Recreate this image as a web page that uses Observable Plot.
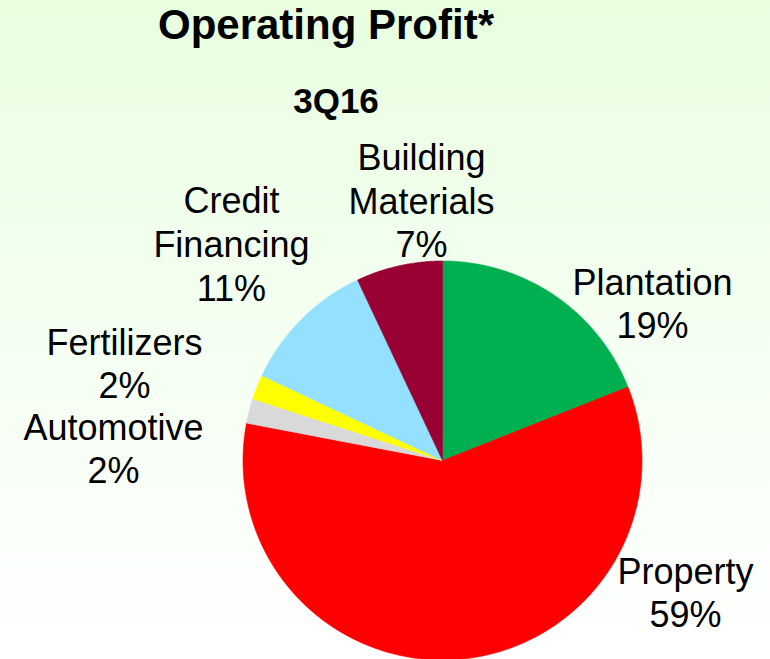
<!DOCTYPE html>
<html><head><meta charset="utf-8">
<script src="https://cdn.jsdelivr.net/npm/d3@7"></script>
<script src="https://cdn.jsdelivr.net/npm/@observablehq/plot@0.6"></script>
<style>
html,body{margin:0;padding:0;}
body{width:770px;height:659px;overflow:hidden;background:linear-gradient(to bottom,#e8ffe0 0%,#f2ffee 40%,#ffffff 100%);font-family:"Liberation Sans",Arial,sans-serif;}
#wrap{position:relative;width:770px;height:659px;}
.t{position:absolute;text-align:center;font-weight:bold;color:#000;line-height:1;white-space:nowrap;}
#title{left:126px;width:400px;top:4px;font-size:42px;}
#sub{left:236px;width:200px;top:83px;font-size:35px;}
#chart{position:absolute;left:0;top:125px;}
</style></head>
<body><div id="wrap"><div id="title" class="t">Operating Profit*</div><div id="sub" class="t">3Q16</div><div id="chart"></div></div>
<script>
// Data (clockwise from 12 o'clock)
const segments = ["Plantation","Property","Automotive","Fertilizers","Credit\nFinancing","Building\nMaterials"];
const shares = [19, 59, 2, 2, 11, 7];
const colors = ["#00b050","#ff0000","#d9d9d9","#ffff00","#93e0ff","#990033"];

// Layout: label anchor (centre x, last-line baseline) in pie-radius units
const labelAt = [[1.053,0.612],[1.218,-0.837],[-1.649,-0.115],[-1.594,0.311],[-1.058,0.802],[-0.105,1.018]];

const W = 770, H = 534, R = 199.5, CX = 442, CY = 335;

const rows = segments.map((name, i) => ({name, share: shares[i], lx: labelAt[i][0], ly: labelAt[i][1]}));
const arcs = d3.pie().sort(null).value(d => d.share)(rows);

const pts = [];
arcs.forEach(a => {
  const name = a.data.name;
  pts.push({name, x: 0, y: 0});
  const steps = Math.max(2, Math.ceil((a.endAngle - a.startAngle) / (Math.PI / 360)));
  for (let k = 0; k <= steps; k++) {
    const t = a.startAngle + (a.endAngle - a.startAngle) * k / steps;
    pts.push({name, x: Math.sin(t), y: Math.cos(t)});
  }
  pts.push({name, x: 0, y: 0});
});

const chart = Plot.plot({
  width: W, height: H, margin: 0,
  x: {domain: [-CX / R, (W - CX) / R], axis: null},
  y: {domain: [-(H - CY) / R, CY / R], axis: null},
  color: {domain: segments, range: colors},
  style: {background: "transparent", overflow: "visible"},
  marks: [
    Plot.line(pts, {x: "x", y: "y", z: "name", fill: "name", stroke: "name", strokeWidth: 0.6, curve: "linear"}),
    Plot.text(rows, {
      x: "lx", y: "ly",
      text: d => `${d.name}\n${d.share}%`,
      lineAnchor: "bottom", textAnchor: "middle",
      fontSize: 36, lineHeight: 1.21, fill: "#000",
      fontFamily: "Liberation Sans, Arial, sans-serif"
    })
  ]
});
document.getElementById("chart").appendChild(chart);
</script>
</body></html>
